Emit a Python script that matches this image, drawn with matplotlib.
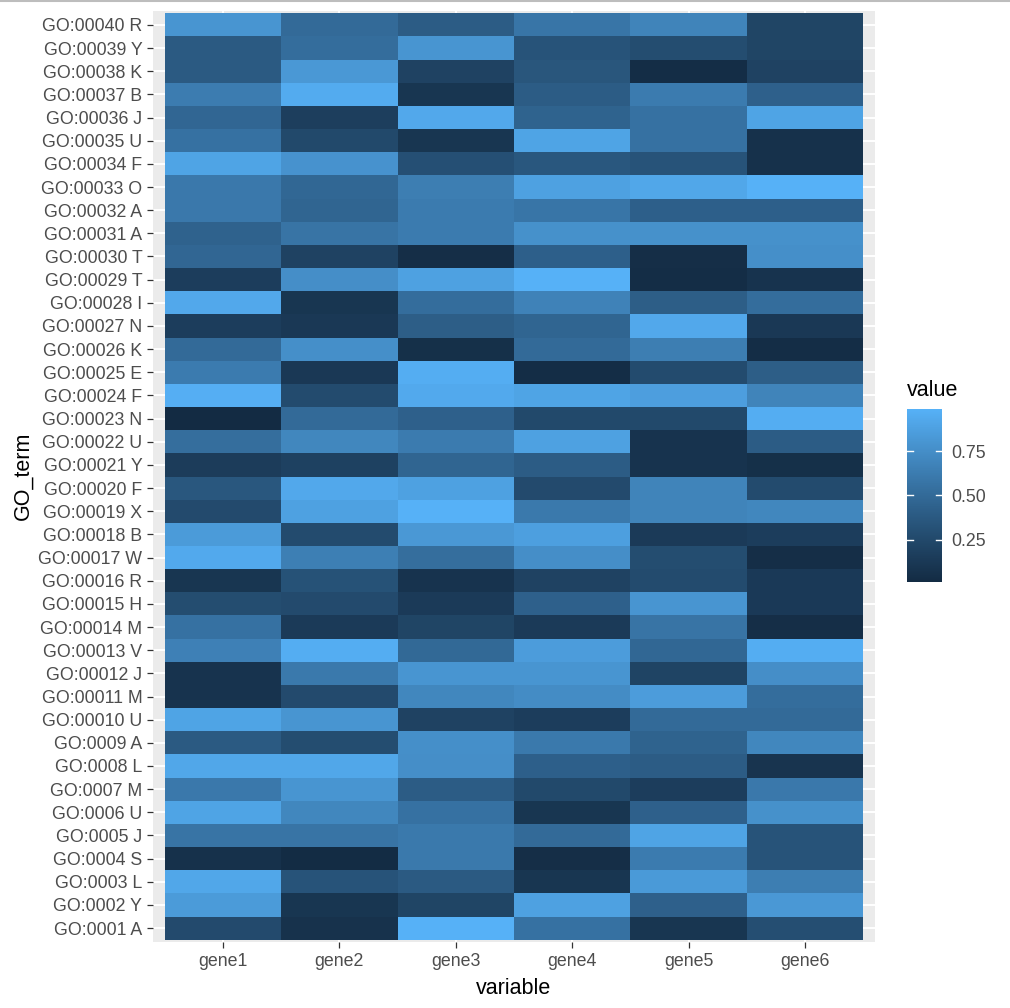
import numpy as np
import matplotlib
matplotlib.use("Agg")
import matplotlib.pyplot as plt
from matplotlib.colors import ListedColormap
from matplotlib.lines import Line2D

plt.rcParams['font.family'] = ['Liberation Sans', 'DejaVu Sans']

genes = ["gene1", "gene2", "gene3", "gene4", "gene5", "gene6"]
go_terms = ["GO:0001 A", "GO:0002 Y", "GO:0003 L", "GO:0004 S", "GO:0005 J",
            "GO:0006 U", "GO:0007 M", "GO:0008 L", "GO:0009 A", "GO:00010 U",
            "GO:00011 M", "GO:00012 J", "GO:00013 V", "GO:00014 M", "GO:00015 H",
            "GO:00016 R", "GO:00017 W", "GO:00018 B", "GO:00019 X", "GO:00020 F",
            "GO:00021 Y", "GO:00022 U", "GO:00023 N", "GO:00024 F", "GO:00025 E",
            "GO:00026 K", "GO:00027 N", "GO:00028 I", "GO:00029 T", "GO:00030 T",
            "GO:00031 A", "GO:00032 A", "GO:00033 O", "GO:00034 F", "GO:00035 U",
            "GO:00036 J", "GO:00037 B", "GO:00038 K", "GO:00039 Y", "GO:00040 R"]

gene1 = [0.26, 0.84, 0.92, 0.06, 0.57, 0.90, 0.60, 0.92, 0.38, 0.90,
         0.08, 0.08, 0.66, 0.55, 0.28, 0.10, 0.94, 0.84, 0.26, 0.36,
         0.15, 0.53, 0.01, 0.97, 0.62, 0.50, 0.16, 0.93, 0.16, 0.47,
         0.44, 0.60, 0.60, 0.90, 0.55, 0.47, 0.63, 0.38, 0.38, 0.80]
gene2 = [0.07, 0.10, 0.33, 0.02, 0.57, 0.70, 0.80, 0.92, 0.28, 0.80,
         0.26, 0.61, 0.96, 0.14, 0.26, 0.32, 0.65, 0.27, 0.88, 0.93,
         0.19, 0.70, 0.50, 0.27, 0.12, 0.76, 0.12, 0.10, 0.75, 0.20,
         0.57, 0.46, 0.48, 0.78, 0.25, 0.17, 0.95, 0.82, 0.52, 0.50]
gene3 = [0.99, 0.22, 0.38, 0.61, 0.61, 0.55, 0.40, 0.75, 0.76, 0.20,
         0.70, 0.80, 0.49, 0.22, 0.14, 0.08, 0.53, 0.82, 0.99, 0.88,
         0.46, 0.62, 0.43, 0.94, 0.96, 0.05, 0.41, 0.52, 0.88, 0.04,
         0.62, 0.62, 0.64, 0.30, 0.10, 0.93, 0.10, 0.20, 0.80, 0.40]
gene4 = [0.55, 0.88, 0.10, 0.04, 0.50, 0.10, 0.25, 0.42, 0.61, 0.16,
         0.74, 0.80, 0.85, 0.14, 0.43, 0.20, 0.75, 0.87, 0.61, 0.26,
         0.40, 0.88, 0.25, 0.90, 0.03, 0.50, 0.46, 0.67, 0.99, 0.42,
         0.77, 0.58, 0.88, 0.36, 0.90, 0.45, 0.40, 0.35, 0.33, 0.58]
gene5 = [0.10, 0.43, 0.83, 0.62, 0.90, 0.43, 0.16, 0.40, 0.45, 0.50,
         0.85, 0.21, 0.48, 0.57, 0.80, 0.27, 0.28, 0.14, 0.68, 0.68,
         0.08, 0.08, 0.25, 0.86, 0.27, 0.64, 0.93, 0.41, 0.03, 0.04,
         0.77, 0.42, 0.92, 0.33, 0.55, 0.55, 0.62, 0.03, 0.28, 0.68]
gene6 = [0.29, 0.82, 0.64, 0.33, 0.33, 0.77, 0.60, 0.09, 0.70, 0.50,
         0.52, 0.75, 0.96, 0.04, 0.13, 0.13, 0.04, 0.16, 0.70, 0.27,
         0.05, 0.40, 0.96, 0.68, 0.41, 0.03, 0.12, 0.52, 0.08, 0.76,
         0.77, 0.42, 0.99, 0.06, 0.06, 0.90, 0.43, 0.20, 0.22, 0.22]

cbar_ticks = [0.25, 0.50, 0.75]


# ---- ggplot2-like gradient (#132B43 -> #56B1F7) interpolated in Lab ----
def _srgb_to_lin(c):
    return np.where(c <= 0.04045, c / 12.92, ((c + 0.055) / 1.055) ** 2.4)


def _lin_to_srgb(c):
    c = np.clip(c, 0, 1)
    return np.where(c <= 0.0031308, 12.92 * c, 1.055 * c ** (1 / 2.4) - 0.055)


M = np.array([[0.4124564, 0.3575761, 0.1804375],
              [0.2126729, 0.7151522, 0.0721750],
              [0.0193339, 0.1191920, 0.9503041]])
WHITE = np.array([0.95047, 1.0, 1.08883])


def _f(t):
    d = 6 / 29
    return np.where(t > d ** 3, np.cbrt(t), t / (3 * d * d) + 4 / 29)


def _finv(t):
    d = 6 / 29
    return np.where(t > d, t ** 3, 3 * d * d * (t - 4 / 29))


def rgb_to_lab(rgb):
    xyz = M @ _srgb_to_lin(np.asarray(rgb)) / WHITE
    fx, fy, fz = _f(xyz)
    return np.array([116 * fy - 16, 500 * (fx - fy), 200 * (fy - fz)])


def lab_to_rgb(lab):
    L, a, b = lab
    fy = (L + 16) / 116
    fx = fy + a / 500
    fz = fy - b / 200
    xyz = np.array([_finv(fx), _finv(fy), _finv(fz)]) * WHITE
    return _lin_to_srgb(np.linalg.inv(M) @ xyz)


def hex2rgb(h):
    return np.array([int(h[i:i + 2], 16) / 255 for i in (1, 3, 5)])


lo = rgb_to_lab(hex2rgb("#132B43"))
hi = rgb_to_lab(hex2rgb("#56B1F7"))
cols = [np.clip(lab_to_rgb(lo + (hi - lo) * t), 0, 1) for t in np.linspace(0, 1, 256)]
cmap = ListedColormap(cols)

# ---- figure ----
W, H = 1010, 1008
fig = plt.figure(figsize=(W / 100, H / 100), dpi=100)
fig.patch.set_facecolor("white")

# thin grey border line at the very top (as in the screenshot)
fig.add_artist(Line2D([0, 1], [1 - 1 / H, 1 - 1 / H], color="#BDBDBD",
                      linewidth=1.5, transform=fig.transFigure))

left, right, top, bottom = 153, 875, 11, 942
ax = fig.add_axes([left / W, 1 - bottom / H, (right - left) / W, (bottom - top) / H])
ax.set_facecolor("#EBEBEB")
for s in ax.spines.values():
    s.set_visible(False)

data = np.array([gene1, gene2, gene3, gene4, gene5, gene6]).T  # rows = GO terms
nrow, ncol = data.shape
xe = np.arange(ncol + 1) + 0.5
ye = np.arange(nrow + 1) + 0.5
vmin, vmax = data.min(), data.max()
mesh = ax.pcolormesh(xe, ye, data, cmap=cmap, vmin=vmin, vmax=vmax,
                     shading="flat", zorder=2, edgecolors="none", antialiased=True)

ax.set_xlim(0.4, ncol + 0.6)
ax.set_ylim(0.4, nrow + 0.6)
ax.set_xticks(np.arange(1, ncol + 1))
ax.set_xticklabels(genes)
ax.set_yticks(np.arange(1, nrow + 1))
ax.set_yticklabels(go_terms)
ax.grid(True, color="white", linewidth=1.4, zorder=1)
ax.set_axisbelow(True)
ax.tick_params(axis="both", colors="#333333", labelcolor="#4D4D4D",
               labelsize=12.8, length=4.3, width=0.9, pad=3.4)

fig.text(514 / W, 1 - 994 / H, "variable", ha="center", va="baseline",
         fontsize=15.5, color="black")
fig.text(23 / W, 1 - 476 / H, "GO_term", ha="center", va="center",
         rotation=90, fontsize=15.5, color="black")

# ---- colorbar legend ----
cb_l, cb_r, cb_t, cb_b = 907, 942, 409, 582
cax = fig.add_axes([cb_l / W, 1 - cb_b / H, (cb_r - cb_l) / W, (cb_b - cb_t) / H])
cb = fig.colorbar(mesh, cax=cax)
cb.outline.set_visible(False)
cb.set_ticks(cbar_ticks)
cb.set_ticklabels([f"{t:.2f}" for t in cbar_ticks])
cax.tick_params(length=0, pad=7, labelsize=12.8, labelcolor="#4D4D4D")
for t in cbar_ticks:
    cax.plot([0, 0.18], [t, t], color="white", linewidth=1.0, transform=cax.get_yaxis_transform())
    cax.plot([0.82, 1.0], [t, t], color="white", linewidth=1.0, transform=cax.get_yaxis_transform())
fig.text(907 / W, 1 - 396 / H, "value", ha="left", va="baseline",
         fontsize=15.5, color="black")

fig.savefig("out.png", dpi=100, facecolor="white")
